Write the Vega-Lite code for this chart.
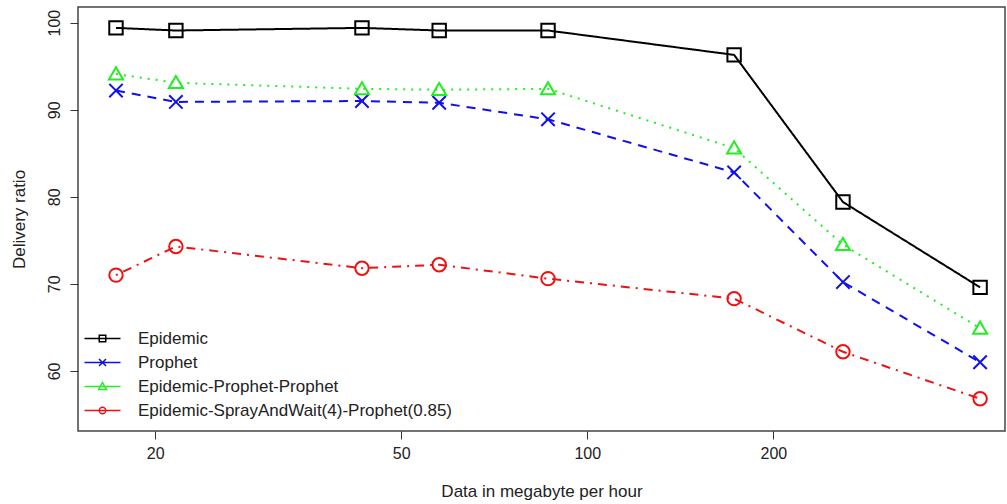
{
  "$schema": "https://vega.github.io/schema/vega-lite/v6.json",
  "width": 927,
  "height": 424,
  "autosize": "none",
  "padding": {"left": 78, "top": 7, "right": 2, "bottom": 73},
  "background": "white",
  "config": {
    "view": {"stroke": "#444", "strokeWidth": 1.5},
    "font": "Liberation Sans",
    "axis": {"grid": false, "domain": false, "tickColor": "#333", "tickSize": 8, "tickWidth": 1, "labelColor": "#222", "labelFontSize": 16, "labelFont": "Liberation Sans", "titleFont": "Liberation Sans", "titleFontSize": 17, "titleFontWeight": "normal", "titleColor": "#222"}
  },
  "data": {
    "values": [
      {"x": 17.28, "y": 99.4, "series": "Epidemic"},
      {"x": 21.6, "y": 99.1, "series": "Epidemic"},
      {"x": 43.2, "y": 99.4, "series": "Epidemic"},
      {"x": 57.6, "y": 99.1, "series": "Epidemic"},
      {"x": 86.4, "y": 99.1, "series": "Epidemic"},
      {"x": 172.8, "y": 96.3, "series": "Epidemic"},
      {"x": 259.2, "y": 79.4, "series": "Epidemic"},
      {"x": 432, "y": 69.6, "series": "Epidemic"},
      {"x": 17.28, "y": 92.2, "series": "Prophet"},
      {"x": 21.6, "y": 90.9, "series": "Prophet"},
      {"x": 43.2, "y": 91.0, "series": "Prophet"},
      {"x": 57.6, "y": 90.8, "series": "Prophet"},
      {"x": 86.4, "y": 88.9, "series": "Prophet"},
      {"x": 172.8, "y": 82.8, "series": "Prophet"},
      {"x": 259.2, "y": 70.2, "series": "Prophet"},
      {"x": 432, "y": 61.0, "series": "Prophet"},
      {"x": 17.28, "y": 94.1, "series": "Epidemic-Prophet-Prophet"},
      {"x": 21.6, "y": 93.1, "series": "Epidemic-Prophet-Prophet"},
      {"x": 43.2, "y": 92.4, "series": "Epidemic-Prophet-Prophet"},
      {"x": 57.6, "y": 92.3, "series": "Epidemic-Prophet-Prophet"},
      {"x": 86.4, "y": 92.4, "series": "Epidemic-Prophet-Prophet"},
      {"x": 172.8, "y": 85.6, "series": "Epidemic-Prophet-Prophet"},
      {"x": 259.2, "y": 74.5, "series": "Epidemic-Prophet-Prophet"},
      {"x": 432, "y": 64.9, "series": "Epidemic-Prophet-Prophet"},
      {"x": 17.28, "y": 71.0, "series": "Epidemic-SprayAndWait(4)-Prophet(0.85)"},
      {"x": 21.6, "y": 74.3, "series": "Epidemic-SprayAndWait(4)-Prophet(0.85)"},
      {"x": 43.2, "y": 71.8, "series": "Epidemic-SprayAndWait(4)-Prophet(0.85)"},
      {"x": 57.6, "y": 72.2, "series": "Epidemic-SprayAndWait(4)-Prophet(0.85)"},
      {"x": 86.4, "y": 70.6, "series": "Epidemic-SprayAndWait(4)-Prophet(0.85)"},
      {"x": 172.8, "y": 68.3, "series": "Epidemic-SprayAndWait(4)-Prophet(0.85)"},
      {"x": 259.2, "y": 62.2, "series": "Epidemic-SprayAndWait(4)-Prophet(0.85)"},
      {"x": 432, "y": 56.8, "series": "Epidemic-SprayAndWait(4)-Prophet(0.85)"}
    ]
  },
  "encoding": {
    "x": {"field": "x", "type": "quantitative", "scale": {"type": "log", "domain": [15.0, 474], "nice": false}, "axis": {"values": [20, 50, 100, 200], "format": "d", "labelPadding": 6, "titlePadding": 22, "labelFlush": false}, "title": "Data in megabyte per hour"},
    "y": {"field": "y", "type": "quantitative", "scale": {"domain": [53.1, 101.8], "nice": false, "zero": false}, "axis": {"values": [60, 70, 80, 90, 100], "labelAngle": -90, "labelAlign": "center", "labelBaseline": "bottom", "labelPadding": 8, "titlePadding": 18, "labelFlush": false}, "title": "Delivery ratio"}
  },
  "layer": [
    {
      "mark": {"type": "line", "strokeWidth": 2},
      "encoding": {
        "color": {"field": "series", "type": "nominal", "scale": {"domain": ["Epidemic", "Prophet", "Epidemic-Prophet-Prophet", "Epidemic-SprayAndWait(4)-Prophet(0.85)"], "range": ["#000000", "#1010ee", "#22ee22", "#ee1111"]}, "legend": null},
        "strokeDash": {"field": "series", "type": "nominal", "scale": {"domain": ["Epidemic", "Prophet", "Epidemic-Prophet-Prophet", "Epidemic-SprayAndWait(4)-Prophet(0.85)"], "range": [[1, 0], [9, 7], [2, 6], [2, 6, 9, 6]]}, "legend": null}
      }
    },
    {
      "mark": {"type": "point", "filled": false, "size": 180, "strokeWidth": 2, "opacity": 1},
      "encoding": {
        "color": {"field": "series", "type": "nominal", "legend": null},
        "shape": {"field": "series", "type": "nominal", "scale": {"domain": ["Epidemic", "Prophet", "Epidemic-Prophet-Prophet", "Epidemic-SprayAndWait(4)-Prophet(0.85)"], "range": ["square", "M-1,-1L1,1M-1,1L1,-1", "M0,-1L1.05,0.8H-1.05Z", "circle"]}, "legend": null}
      }
    },
    {
      "transform": [{"filter": "datum.y > 1000"}],
      "mark": {"type": "point", "filled": false, "strokeWidth": 1.5, "opacity": 1},
      "encoding": {
        "color": {"field": "series", "type": "nominal", "legend": null},
        "shape": {"field": "series", "type": "nominal", "scale": {"domain": ["Epidemic", "Prophet", "Epidemic-Prophet-Prophet", "Epidemic-SprayAndWait(4)-Prophet(0.85)"], "range": ["M-3.6,0H3.6M-0.65,-0.65H0.65V0.65H-0.65Z", "M-3.6,0H3.6M-0.7,-0.7L0.7,0.7M-0.7,0.7L0.7,-0.7", "M-3.6,0H3.6M0,-0.8L0.8,0.6H-0.8Z", "M-3.6,0H3.6M-0.65,0A0.65,0.65,0,1,0,0.65,0A0.65,0.65,0,1,0,-0.65,0"]}, "legend": {"orient": "none", "legendX": 16, "legendY": 323, "title": null, "padding": 0, "symbolSize": 100, "symbolStrokeWidth": 1.5, "symbolStrokeColor": {"expr": "scale('color', datum.value)"}, "labelFontSize": 17, "labelFont": "Liberation Sans", "labelColor": "#222", "labelOffset": 27, "rowPadding": 6, "labelLimit": 600}}
      }
    }
  ],
  "resolve": {"scale": {"shape": "independent"}}
}
